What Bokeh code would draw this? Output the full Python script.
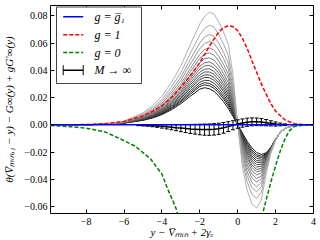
from bokeh.plotting import figure
from bokeh.models import (FixedTicker, CustomJSTickFormatter, LinearAxis, Range1d,
                          BoxAnnotation, Label, Arrow, CustomLabelingPolicy,
                          GlobalInlineStyleSheet)
from bokeh.embed import file_html
from bokeh.resources import INLINE

# ---------------- data ----------------
x_grid = [-9.88, -8, -7, -6, -5, -4.5, -4, -3.5, -3, -2.5, -2, -1.75, -1.5, -1.25, -1,
          -0.75, -0.5, -0.25, 0, 0.25, 0.5, 0.75, 1, 1.25, 1.5, 1.75, 2, 2.25, 2.5, 3, 4]

# finite-M curves, darkest (largest M) first, lightest (smallest M) last
gray_curves = [
    [0, 0.0001, 0.0004, 0.0012, 0.0033, 0.0050, 0.0075, 0.0110, 0.0155, 0.0210, 0.0262, 0.0272, 0.0265, 0.0245, 0.0212, 0.0170, 0.0120, 0.0062, 0, -0.0060, -0.0120, -0.0168, -0.0203, -0.0217, -0.0205, -0.0165, -0.0105, -0.0055, -0.0025, -0.0003, 0],
    [0, 0.0001, 0.0004, 0.0013, 0.0035, 0.0054, 0.0080, 0.0118, 0.0166, 0.0225, 0.0281, 0.0293, 0.0287, 0.0268, 0.0234, 0.0190, 0.0139, 0.0074, 0, -0.0070, -0.0134, -0.0184, -0.0219, -0.0230, -0.0211, -0.0167, -0.0105, -0.0055, -0.0025, -0.0003, 0],
    [0, 0.0001, 0.0004, 0.0013, 0.0037, 0.0056, 0.0084, 0.0124, 0.0174, 0.0237, 0.0295, 0.0309, 0.0304, 0.0285, 0.0250, 0.0206, 0.0153, 0.0084, 0, -0.0078, -0.0145, -0.0197, -0.0231, -0.0240, -0.0216, -0.0168, -0.0106, -0.0055, -0.0025, -0.0003, 0],
    [0, 0.0001, 0.0004, 0.0014, 0.0039, 0.0059, 0.0089, 0.0131, 0.0184, 0.0250, 0.0312, 0.0327, 0.0324, 0.0305, 0.0269, 0.0224, 0.0169, 0.0094, 0, -0.0086, -0.0158, -0.0211, -0.0246, -0.0252, -0.0221, -0.0170, -0.0106, -0.0055, -0.0025, -0.0003, 0],
    [0, 0.0001, 0.0004, 0.0014, 0.0041, 0.0063, 0.0095, 0.0139, 0.0195, 0.0265, 0.0331, 0.0348, 0.0346, 0.0327, 0.0291, 0.0244, 0.0188, 0.0107, 0, -0.0096, -0.0172, -0.0228, -0.0262, -0.0265, -0.0227, -0.0172, -0.0106, -0.0055, -0.0025, -0.0003, 0],
    [0, 0.0001, 0.0004, 0.0015, 0.0043, 0.0066, 0.0099, 0.0146, 0.0205, 0.0278, 0.0348, 0.0366, 0.0366, 0.0347, 0.0310, 0.0262, 0.0205, 0.0117, 0, -0.0105, -0.0185, -0.0242, -0.0276, -0.0277, -0.0233, -0.0173, -0.0107, -0.0055, -0.0025, -0.0003, 0],
    [0, 0.0001, 0.0004, 0.0016, 0.0045, 0.0070, 0.0105, 0.0154, 0.0216, 0.0294, 0.0367, 0.0387, 0.0388, 0.0370, 0.0331, 0.0282, 0.0223, 0.0130, 0, -0.0115, -0.0199, -0.0259, -0.0292, -0.0290, -0.0239, -0.0175, -0.0107, -0.0055, -0.0025, -0.0003, 0],
    [0, 0.0001, 0.0004, 0.0016, 0.0047, 0.0073, 0.0110, 0.0162, 0.0227, 0.0309, 0.0386, 0.0408, 0.0411, 0.0392, 0.0353, 0.0303, 0.0242, 0.0142, 0, -0.0125, -0.0214, -0.0275, -0.0309, -0.0304, -0.0245, -0.0177, -0.0108, -0.0055, -0.0025, -0.0003, 0],
    [0, 0.0001, 0.0004, 0.0017, 0.0050, 0.0077, 0.0116, 0.0171, 0.0239, 0.0326, 0.0408, 0.0432, 0.0436, 0.0418, 0.0378, 0.0326, 0.0263, 0.0156, 0, -0.0136, -0.0230, -0.0294, -0.0327, -0.0319, -0.0252, -0.0179, -0.0108, -0.0055, -0.0025, -0.0003, 0],
    [0, 0.0001, 0.0004, 0.0018, 0.0052, 0.0082, 0.0122, 0.0180, 0.0251, 0.0343, 0.0429, 0.0455, 0.0461, 0.0443, 0.0402, 0.0349, 0.0285, 0.0170, 0, -0.0148, -0.0246, -0.0312, -0.0345, -0.0334, -0.0259, -0.0181, -0.0109, -0.0055, -0.0025, -0.0003, 0],
    [0, 0.0001, 0.0004, 0.0018, 0.0055, 0.0086, 0.0130, 0.0191, 0.0266, 0.0364, 0.0456, 0.0484, 0.0492, 0.0475, 0.0432, 0.0377, 0.0310, 0.0187, 0, -0.0161, -0.0266, -0.0335, -0.0367, -0.0352, -0.0268, -0.0183, -0.0109, -0.0055, -0.0025, -0.0003, 0],
    [0, 0.0001, 0.0004, 0.0020, 0.0059, 0.0092, 0.0138, 0.0204, 0.0284, 0.0389, 0.0487, 0.0518, 0.0528, 0.0511, 0.0467, 0.0410, 0.0341, 0.0207, 0, -0.0178, -0.0289, -0.0362, -0.0394, -0.0374, -0.0278, -0.0186, -0.0110, -0.0055, -0.0025, -0.0003, 0],
    [0, 0.0001, 0.0004, 0.0021, 0.0062, 0.0098, 0.0147, 0.0217, 0.0302, 0.0413, 0.0518, 0.0552, 0.0565, 0.0548, 0.0503, 0.0443, 0.0371, 0.0227, 0, -0.0194, -0.0313, -0.0388, -0.0420, -0.0395, -0.0288, -0.0189, -0.0110, -0.0055, -0.0025, -0.0003, 0],
    [0, 0.0001, 0.0005, 0.0022, 0.0067, 0.0106, 0.0159, 0.0234, 0.0326, 0.0446, 0.0558, 0.0596, 0.0612, 0.0597, 0.0549, 0.0486, 0.0411, 0.0253, 0, -0.0215, -0.0343, -0.0423, -0.0455, -0.0423, -0.0301, -0.0193, -0.0111, -0.0055, -0.0025, -0.0003, 0],
    [0, 0.0001, 0.0005, 0.0023, 0.0072, 0.0114, 0.0171, 0.0252, 0.0350, 0.0480, 0.0601, 0.0643, 0.0663, 0.0648, 0.0598, 0.0532, 0.0454, 0.0281, 0, -0.0238, -0.0376, -0.0461, -0.0491, -0.0453, -0.0315, -0.0197, -0.0112, -0.0055, -0.0025, -0.0003, 0],
    [0, 0.0001, 0.0005, 0.0025, 0.0079, 0.0125, 0.0187, 0.0276, 0.0383, 0.0525, 0.0659, 0.0706, 0.0730, 0.0716, 0.0663, 0.0593, 0.0510, 0.0318, 0, -0.0268, -0.0419, -0.0510, -0.0540, -0.0493, -0.0334, -0.0202, -0.0113, -0.0055, -0.0025, -0.0003, 0],
    [0, 0.0001, 0.0005, 0.0028, 0.0088, 0.0140, 0.0210, 0.0310, 0.0430, 0.0590, 0.0740, 0.0795, 0.0825, 0.0812, 0.0755, 0.0680, 0.0590, 0.0370, 0, -0.0310, -0.0480, -0.0580, -0.0609, -0.0550, -0.0360, -0.0210, -0.0115, -0.0055, -0.0025, -0.0003, 0],
]

# g = 1 (red dashed)
red_x = [-9.88, -8, -7, -6, -5, -4.5, -4, -3.5, -3, -2.5, -2, -1.5, -1.25, -1, -0.75,
         -0.5, -0.25, 0, 0.25, 0.5, 0.75, 1, 1.25, 1.5, 1.75, 2, 2.5, 3, 3.5, 4]
red_y = [0, 0.0002, 0.0008, 0.0025, 0.0065, 0.0098, 0.0140, 0.0200, 0.0275, 0.0360,
         0.0455, 0.0575, 0.0630, 0.0680, 0.0712, 0.0727, 0.0720, 0.0690, 0.0635, 0.0560,
         0.0470, 0.0385, 0.0300, 0.0225, 0.0155, 0.0100, 0.0035, 0.0008, 0.0001, 0]

# g = 0 (green dashed), two branches leaving the frame at the bottom
green_left_x = [-9.88, -9, -8, -7, -6.3, -5.4, -4.6, -4.0, -3.7, -3.4, -3.25, -3.0]
green_left_y = [-0.0005, -0.0012, -0.0024, -0.0052, -0.0096, -0.0157, -0.0250, -0.0361,
                -0.0469, -0.0565, -0.0614, -0.0750]
green_right_x = [1.1, 1.3, 1.5, 1.75, 2.0, 2.25, 2.5, 2.75, 3.0, 3.5, 4.0]
green_right_y = [-0.0760, -0.0660, -0.0550, -0.0420, -0.0300, -0.0190, -0.0100, -0.0040,
                 -0.0012, -0.0001, 0]

# g = g1bar (blue solid)
blue_x = [-9.88, 4]
blue_y = [0, 0]

# M -> infinity (black with error bars)
eb_x = [-5.25, -5.0, -4.75, -4.5, -4.25, -4.0, -3.75, -3.5, -3.25, -3.0, -2.75, -2.5, -2.25,
        -2.0, -1.75, -1.5, -1.25, -1.0, -0.75, -0.5, -0.25, 0.0, 0.25, 0.5, 0.75, 1.0, 1.25,
        1.5, 1.75, 2.0, 2.25, 2.5]
eb_y = [-0.0002, -0.0003, -0.0004, -0.0006, -0.0008, -0.0011, -0.0014, -0.0017, -0.0021,
        -0.0024, -0.0027, -0.0030, -0.0032, -0.0034, -0.0035, -0.0035, -0.0033, -0.0029,
        -0.0022, -0.0013, -0.0003, 0.0006, 0.0013, 0.0019, 0.0022, 0.0022, 0.0020, 0.0016,
        0.0011, 0.0006, 0.0003, 0.0001]
eb_err = [0.0004, 0.0005, 0.0006, 0.0008, 0.0010, 0.0013, 0.0016, 0.0019, 0.0022, 0.0026,
          0.0030, 0.0033, 0.0036, 0.0039, 0.0041, 0.0042, 0.0042, 0.0041, 0.0039, 0.0036,
          0.0033, 0.0031, 0.0030, 0.0030, 0.0029, 0.0028, 0.0026, 0.0023, 0.0019, 0.0015,
          0.0010, 0.0006]

x_ticks = [-8, -6, -4, -2, 0, 2, 4]
y_ticks = [-0.06, -0.04, -0.02, 0.0, 0.02, 0.04, 0.06, 0.08]

legend_labels = ["g = g\u0305\u2081", "g = 1", "g = 0", "M \u2192 \u221e"]
x_label = "y \u2212 V\u0305\u2098\u1d62\u2099 + 2\u03b3\u2091"
y_label = "\u03b8(V\u0305\u2098\u1d62\u2099,\u2081 \u2212 y) \u2212 G\u221e(y) + gG\u2032\u221e(y)"

# ---------------- figure ----------------
SERIF = "Liberation Serif"
p = figure(width=320, height=240, x_range=Range1d(-9.88, 4.0), y_range=Range1d(-0.065, 0.0875),
           output_backend="svg", toolbar_location=None,
           min_border_left=49, min_border_right=7, min_border_top=5, min_border_bottom=24)
p.stylesheets = [GlobalInlineStyleSheet(css="html, body { margin: 0; padding: 0; overflow: hidden; }")]
p.background_fill_color = "white"
p.border_fill_color = "white"
p.outline_line_color = "black"
p.outline_line_width = 1
p.xgrid.visible = False
p.ygrid.visible = False

xfmt = CustomJSTickFormatter(code="const v = Math.round(tick); return v < 0 ? '\u2212' + Math.abs(v) : '' + v;")
yfmt = CustomJSTickFormatter(code="const v = Math.abs(tick) < 1e-9 ? 0 : tick; const s = Math.abs(v).toFixed(2); return v < 0 ? '\u2212' + s : s;")
no_labels = CustomLabelingPolicy(code="const all = Array.from(indices); for (const i of all) { indices.unset(i) } return indices;")

def style_axis(ax, ticks, fmt, show_labels):
    ax.ticker = FixedTicker(ticks=ticks)
    ax.formatter = fmt
    ax.major_tick_in = 4
    ax.major_tick_out = 0
    ax.minor_tick_in = 0
    ax.minor_tick_out = 0
    ax.major_tick_line_color = "black"
    ax.axis_line_color = None
    if show_labels:
        ax.major_label_text_font = SERIF
        ax.major_label_text_font_size = "10px"
        ax.major_label_text_color = "black"
    else:
        ax.major_label_policy = no_labels
        ax.major_label_text_font_size = "1px"
        ax.major_label_standoff = 0

xa = p.xaxis[0]
ya = p.yaxis[0]
style_axis(xa, x_ticks, xfmt, True)
style_axis(ya, y_ticks, yfmt, True)
xa.major_label_standoff = 4
ya.major_label_standoff = 3
xa.axis_label = x_label
ya.axis_label = y_label
for ax in (xa, ya):
    ax.axis_label_text_font = SERIF
    ax.axis_label_text_font_size = "11px"
    ax.axis_label_text_font_style = "italic"
    ax.axis_label_text_color = "black"
xa.axis_label_standoff = -2
ya.axis_label_standoff = 6

top_ax = LinearAxis()
style_axis(top_ax, x_ticks, xfmt, False)
p.add_layout(top_ax, "above")
right_ax = LinearAxis()
style_axis(right_ax, y_ticks, yfmt, False)
p.add_layout(right_ax, "right")

# gray family
n = len(gray_curves)
for i, ys in enumerate(gray_curves):
    lvl = int(round(25 + 150 * i / (n - 1)))
    p.line(x_grid, ys, line_color="#%02x%02x%02x" % (lvl, lvl, lvl), line_width=1)

# M -> infinity with error bars
eb_lo = [y - e for y, e in zip(eb_y, eb_err)]
eb_hi = [y + e for y, e in zip(eb_y, eb_err)]
p.line(eb_x, eb_y, line_color="black", line_width=1.5)
p.segment(x0=eb_x, y0=eb_lo, x1=eb_x, y1=eb_hi, line_color="black", line_width=1)
p.scatter(x=eb_x + eb_x, y=eb_lo + eb_hi, marker="dash", size=4, line_color="black", line_width=1)

# g = 1, g = 0, g = g1bar
p.line(red_x, red_y, line_color="red", line_width=1.5, line_dash="4 2")
p.line(green_left_x, green_left_y, line_color="#008000", line_width=1.5, line_dash="4 2")
p.line(green_right_x, green_right_y, line_color="#008000", line_width=1.5, line_dash="4 2")
p.line(blue_x, blue_y, line_color="blue", line_width=1.5)

# ---------------- legend (screen units, frame-relative) ----------------
p.add_layout(BoxAnnotation(left=6, right=91, bottom=130, top=206.5,
                           left_units="screen", right_units="screen",
                           bottom_units="screen", top_units="screen",
                           fill_color="white", fill_alpha=1.0,
                           line_color="#444444", line_alpha=1.0, line_width=1))
rows = [196.7, 178.7, 161.0, 143.3]
styles = [("blue", None), ("red", "4 2"), ("#008000", "4 2")]
for r, (col, dash) in zip(rows[:3], styles):
    kw = dict(line_dash=dash) if dash else {}
    p.add_layout(Arrow(start=None, end=None, x_start=12.7, y_start=r, x_end=32.7, y_end=r,
                       start_units="screen", end_units="screen",
                       line_color=col, line_width=1.5, **kw))
r = rows[3]
p.add_layout(Arrow(start=None, end=None, x_start=12.7, y_start=r, x_end=32.7, y_end=r,
                   start_units="screen", end_units="screen", line_color="black", line_width=1.5))
for xe in (12.7, 32.7):
    p.add_layout(Arrow(start=None, end=None, x_start=xe, y_start=r - 5, x_end=xe, y_end=r + 5,
                       start_units="screen", end_units="screen", line_color="black", line_width=1))
for r, txt in zip(rows, legend_labels):
    p.add_layout(Label(x=44, y=r, x_units="screen", y_units="screen", text=txt,
                       text_baseline="middle", text_font=SERIF, text_font_size="12px",
                       text_font_style="italic", text_color="black"))

open("out.html", "w").write(file_html(p, INLINE))
